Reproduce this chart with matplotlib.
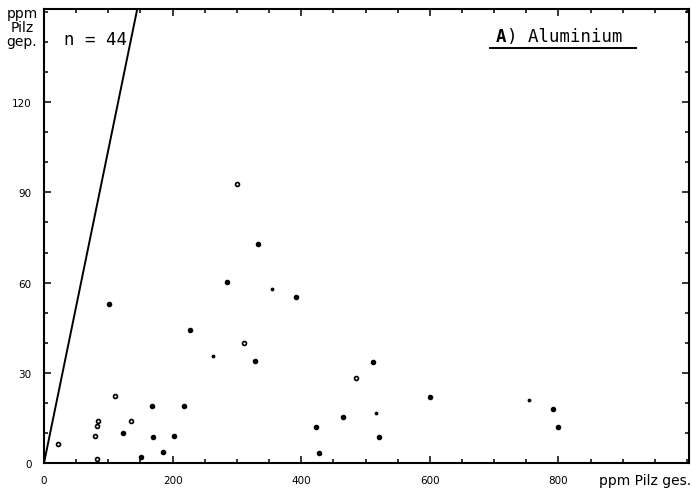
import matplotlib
matplotlib.use("Agg")
import matplotlib.pyplot as plt
from matplotlib.ticker import MultipleLocator, FixedLocator

# Data (ppm Pilz ges., ppm Pilz gep.)
filled_x = [101, 123, 151, 168.5, 169, 185.6, 202, 217, 227, 285, 328.6, 333, 392,
            423, 428, 464.5, 511, 520.5, 600, 791.6, 800]
filled_y = [52.8, 10.1, 2.0, 18.9, 8.5, 3.5, 9.0, 19.0, 44.4, 60.2, 33.8, 72.8, 55.3,
            11.9, 3.4, 15.2, 33.7, 8.7, 22.1, 17.8, 12.1]
open_x = [22, 83, 80, 83, 84.5, 110.4, 135, 300, 311.5, 485]
open_y = [6.2, 1.4, 8.9, 12.2, 14.0, 22.3, 14.0, 92.9, 40.0, 28.4]
tiny_x = [355, 516, 754, 263]
tiny_y = [58.0, 16.6, 21.0, 35.5]
ref_line_x = [0, 145]
ref_line_y = [0, 151]

x_ticks = [0, 200, 400, 600, 800]
y_ticks = [0, 30, 60, 90, 120]

fig = plt.figure(figsize=(6.92, 4.89), dpi=100)
ax = fig.add_axes([44/692, 25/489, (689-44)/692, (464-10)/489])

ax.plot(ref_line_x, ref_line_y, color="black", lw=1.4, clip_on=True)
ax.scatter(filled_x, filled_y, s=9, color="black", zorder=3)
ax.scatter(open_x, open_y, s=8, facecolor="white", edgecolor="black", linewidths=1.2, zorder=3)
ax.scatter(tiny_x, tiny_y, s=3, color="black", zorder=3)

ax.set_xlim(0, 1003)
ax.set_ylim(0, 151)

ax.xaxis.set_major_locator(FixedLocator(x_ticks))
ax.xaxis.set_minor_locator(MultipleLocator(50))
ax.yaxis.set_major_locator(FixedLocator(y_ticks))
ax.yaxis.set_minor_locator(MultipleLocator(10))
ax.tick_params(which="both", direction="in", top=True, right=True, labelsize=7.5,
               width=1.1, color="black")
ax.tick_params(which="major", length=5, pad=9)
ax.tick_params(which="minor", length=3)
for s in ax.spines.values():
    s.set_linewidth(1.5)

mono = "DejaVu Sans Mono"
ax.text(20/645, (464-40)/454, "n = 44", transform=ax.transAxes, fontsize=12.5,
        family=mono, va="center", ha="left")
ax.text(452/645, (464-37)/454, "A", transform=ax.transAxes, fontsize=12.5,
        family=mono, fontweight="bold", va="center", ha="left")
ax.text(463/645, (464-37)/454, ") Aluminium", transform=ax.transAxes, fontsize=12.5,
        family=mono, va="center", ha="left")
ax.plot([446/645, 592/645], [(464-49)/454, (464-49)/454], transform=ax.transAxes,
        color="black", lw=1.4, clip_on=False)

fig.text(22/692, 1 - 28/489, "ppm\nPilz\ngep.", fontsize=10, va="center", ha="center",
         linespacing=1.0)
fig.text(691/692, 1 - 481/489, "ppm Pilz ges.", fontsize=10, va="center", ha="right")

fig.savefig("out.png", dpi=100)
